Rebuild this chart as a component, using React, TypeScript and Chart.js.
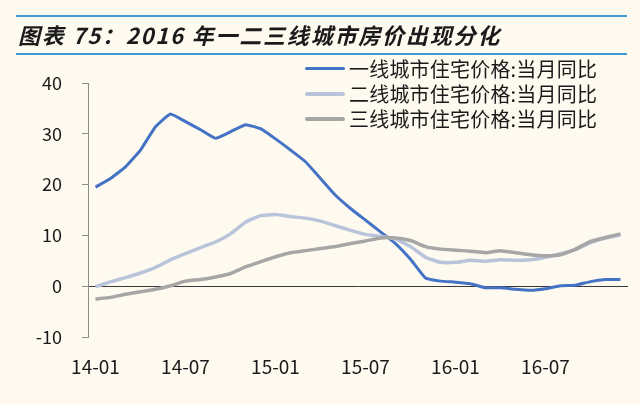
import React, { useEffect, useRef } from "react";
import { Chart, registerables } from "chart.js";

Chart.register(...registerables);

const titleText = "图表 75：2016 年一二三线城市房价出现分化";

const months = [
  "14-01", "14-02", "14-03", "14-04", "14-05", "14-06", "14-07", "14-08", "14-09", "14-10", "14-11", "14-12",
  "15-01", "15-02", "15-03", "15-04", "15-05", "15-06", "15-07", "15-08", "15-09", "15-10", "15-11", "15-12",
  "16-01", "16-02", "16-03", "16-04", "16-05", "16-06", "16-07", "16-08", "16-09", "16-10", "16-11", "16-12",
];

const shownTicks = ["14-01", "14-07", "15-01", "15-07", "16-01", "16-07"];

const seriesNames = [
  "一线城市住宅价格:当月同比",
  "二线城市住宅价格:当月同比",
  "三线城市住宅价格:当月同比",
];

const tier1 = [
  19.5, 21.2, 23.5, 26.8, 31.4, 33.9, 32.4, 30.8, 29.1, 30.4, 31.8, 31.0,
  29.0, 26.8, 24.5, 21.2, 17.9, 15.3, 13.0, 10.7, 8.4, 5.3, 1.6, 1.0,
  0.8, 0.5, -0.3, -0.3, -0.6, -0.8, -0.5, 0.1, 0.2, 0.9, 1.3, 1.3,
];

const tier2 = [
  -0.1, 0.85, 1.7, 2.6, 3.7, 5.2, 6.4, 7.6, 8.7, 10.3, 12.6, 13.9,
  14.1, 13.7, 13.4, 12.8, 11.9, 11.0, 10.2, 9.8, 9.3, 7.8, 5.7, 4.7,
  4.7, 5.1, 4.9, 5.2, 5.1, 5.2, 5.7, 6.4, 7.2, 8.6, 9.5, 10.1,
];

const tier3 = [
  -2.5, -2.2, -1.6, -1.1, -0.6, 0.1, 1.0, 1.3, 1.8, 2.5, 3.8, 4.8,
  5.8, 6.6, 7.0, 7.4, 7.8, 8.4, 8.9, 9.5, 9.5, 9.0, 7.8, 7.3,
  7.1, 6.9, 6.6, 7.0, 6.6, 6.2, 6.0, 6.2, 7.3, 8.8, 9.6, 10.3,
];

const yMin = -10;
const yMax = 40;
const yStep = 10;

const colors = ["#4472C4", "#B9C3D9", "#A6A6A6"];
const widths = [3, 3.5, 3.5];

const BG = "#FEFAF0";
const CJK = '"Noto Sans CJK SC", "Noto Sans", sans-serif';

export default function App() {
  const canvasRef = useRef<HTMLCanvasElement | null>(null);

  useEffect(() => {
    const canvas = canvasRef.current;
    if (!canvas) return;
    const values = [tier1, tier2, tier3];
    const chart = new Chart(canvas, {
      type: "line",
      data: {
        labels: months,
        datasets: values.map((v, i) => ({
          label: seriesNames[i],
          data: v,
          borderColor: colors[i],
          backgroundColor: colors[i],
          borderWidth: widths[i],
          pointRadius: 0,
          tension: 0.12,
          fill: false,
          order: 2 - i,
        })),
      },
      options: {
        responsive: false,
        animation: false,
        layout: { padding: { top: 83, right: 12, bottom: 0, left: 0 } },
        plugins: {
          legend: { display: false },
          title: { display: false },
          tooltip: { enabled: false },
        },
        scales: {
          x: {
            type: "category",
            offset: true,
            grid: { display: false, drawTicks: false },
            border: { display: false },
            ticks: {
              autoSkip: false,
              maxRotation: 0,
              padding: 18,
              color: "#1a1a1a",
              font: { family: CJK, size: 19 },
              callback: (_v: any, idx: number) =>
                shownTicks.includes(months[idx]) ? months[idx] : "",
            },
            afterFit: (scale: any) => {
              scale.height = 67;
            },
          },
          y: {
            min: yMin,
            max: yMax,
            ticks: {
              stepSize: yStep,
              padding: 20,
              color: "#1a1a1a",
              font: { family: CJK, size: 18 },
            },
            grid: {
              drawOnChartArea: true,
              drawTicks: true,
              tickLength: 6,
              tickColor: "#8c8c8c",
              color: (ctx: any) =>
                ctx.tick && ctx.tick.value === 0 ? "#3a3a3a" : "rgba(0,0,0,0)",
              lineWidth: 1,
            },
            border: { display: true, color: "#8c8c8c", width: 1 },
            afterFit: (scale: any) => {
              scale.width = 88;
            },
          },
        },
      },
    });
    return () => chart.destroy();
  }, []);

  return (
    <div
      style={{
        position: "fixed",
        left: 0,
        top: 0,
        width: 640,
        height: 404,
        background: BG,
        overflow: "hidden",
      }}
    >
      <canvas
        ref={canvasRef}
        width={640}
        height={404}
        style={{ position: "absolute", left: 0, top: 0, width: 640, height: 404 }}
      />
      <div
        style={{
          position: "absolute",
          left: 16,
          top: 15,
          width: 611,
          height: 2,
          background: "#3D9BD6",
        }}
      />
      <div
        style={{
          position: "absolute",
          left: 16,
          top: 53,
          width: 611,
          height: 2,
          background: "#3D9BD6",
        }}
      />
      <div
        style={{
          position: "absolute",
          left: 18,
          top: 17,
          height: 34,
          lineHeight: "34px",
          fontFamily: CJK,
          fontStyle: "italic",
          fontWeight: 600,
          fontSize: 22,
          letterSpacing: 1.8,
          color: "#1a1a1a",
          whiteSpace: "nowrap",
        }}
      >
        {titleText}
      </div>
      {seriesNames.map((name, i) => (
        <div
          key={name}
          style={{
            position: "absolute",
            left: 305,
            top: 56 + i * 25,
            height: 25,
            display: "flex",
            alignItems: "center",
            whiteSpace: "nowrap",
          }}
        >
          <div
            style={{
              width: 40,
              height: widths[i] + 0.5,
              background: colors[i],
              borderRadius: 2,
              marginRight: 4,
            }}
          />
          <span
            style={{
              fontFamily: CJK,
              fontSize: 20,
              letterSpacing: 0.2,
              color: "#1a1a1a",
              lineHeight: "25px",
            }}
          >
            {name}
          </span>
        </div>
      ))}
    </div>
  );
}
